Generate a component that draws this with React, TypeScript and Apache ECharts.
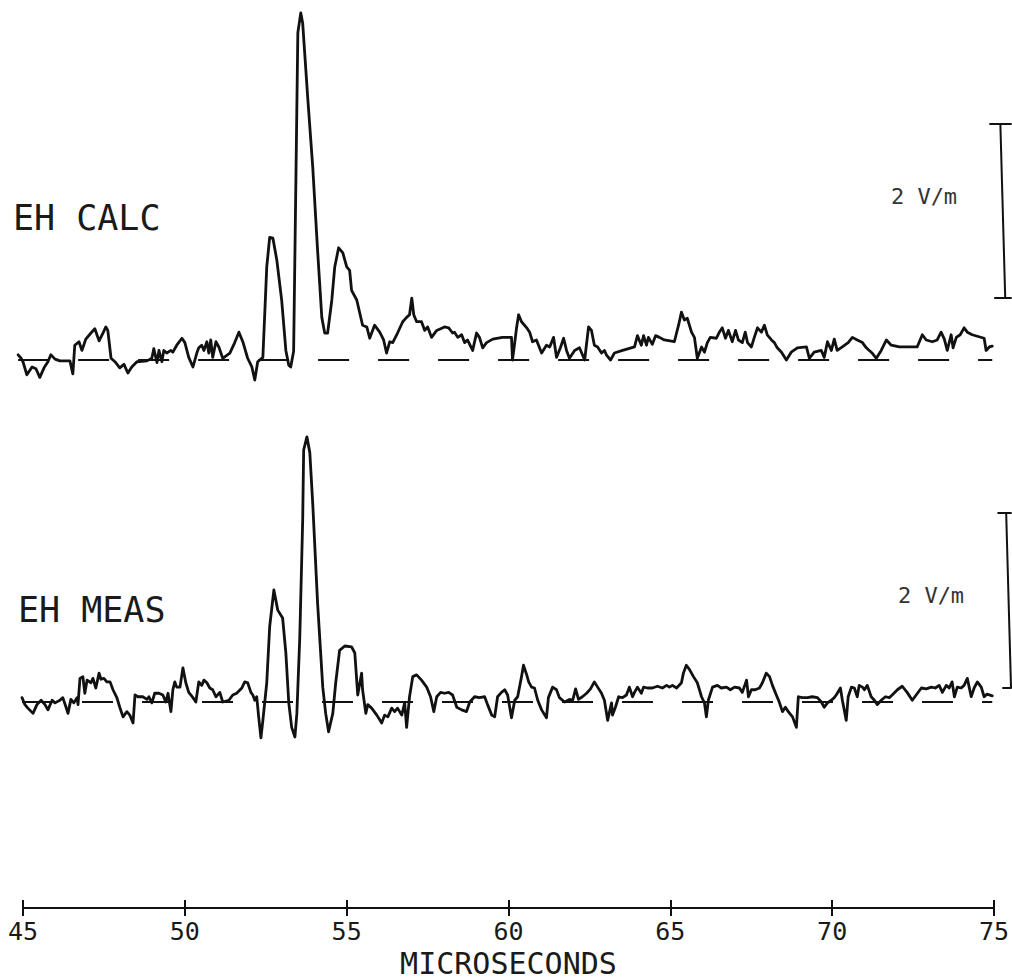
import React, { useEffect, useRef } from "react";
import * as echarts from "echarts";

// ---- Data (time in microseconds, field in V/m) ----
const TIME_TICKS = [45, 50, 55, 60, 65, 70, 75];
const X_AXIS_NAME = "MICROSECONDS";
const TRACE_LABELS = ["EH CALC", "EH MEAS"];
const SCALE_LABEL = "2 V/m";
const SCALE_SPAN = 2;

const calcTrace: number[][] = [
  [44.85,0.06],[44.94,0.02],[45.00,-0.02],[45.12,-0.17],[45.28,-0.08],[45.40,-0.10],[45.52,-0.20],[45.65,-0.09],[45.77,-0.02],[45.86,0.06],[45.99,0.01],[46.14,-0.01],[46.45,-0.01],[46.54,-0.16],[46.60,0.17],[46.73,0.21],[46.82,0.11],[46.94,0.24],[47.10,0.31],[47.22,0.36],[47.35,0.22],[47.47,0.31],[47.56,0.38],[47.62,0.34],[47.72,0.02],[47.84,-0.02],[47.99,-0.09],[48.12,-0.05],[48.24,-0.15],[48.36,-0.08],[48.52,-0.02],[48.83,-0.01],[48.98,0.02],[49.04,0.13],[49.14,-0.03],[49.20,0.11],[49.29,-0.02],[49.35,0.11],[49.44,0.08],[49.57,0.11],[49.63,0.09],[49.75,0.17],[49.91,0.25],[50.00,0.20],[50.12,0.03],[50.25,-0.08],[50.37,0.08],[50.43,0.14],[50.52,0.17],[50.59,0.11],[50.68,0.21],[50.74,0.08],[50.80,0.23],[50.86,0.03],[50.96,0.21],[51.05,0.15],[51.17,0.02],[51.39,0.08],[51.54,0.20],[51.67,0.32],[51.79,0.21],[51.94,0.02],[52.07,-0.08],[52.16,-0.23],[52.25,-0.02],[52.41,0.03],
  [52.53,1.07],[52.62,1.41],[52.72,1.40],[52.84,1.15],[52.99,0.69],[53.12,0.11],[53.21,-0.06],[53.27,-0.08],[53.36,0.10],[53.49,3.76],[53.58,3.99],[53.64,3.87],[53.80,2.99],[53.95,2.22],[54.10,1.26],[54.23,0.49],[54.32,0.31],[54.41,0.31],[54.54,0.69],[54.63,1.07],[54.75,1.29],[54.88,1.23],[55.00,1.07],[55.09,1.03],[55.15,0.80],[55.31,0.69],
  [55.49,0.40],[55.62,0.38],[55.71,0.25],[55.86,0.40],[56.02,0.32],[56.14,0.23],[56.23,0.08],[56.33,0.21],[56.42,0.20],[56.57,0.31],[56.73,0.44],[56.85,0.49],[56.94,0.52],[57.01,0.71],[57.07,0.52],[57.16,0.44],[57.31,0.44],[57.41,0.34],[57.50,0.38],[57.62,0.26],[57.78,0.34],[58.02,0.38],[58.15,0.37],[58.27,0.31],[58.33,0.32],[58.43,0.26],[58.55,0.29],[58.64,0.20],[58.73,0.23],[58.89,0.11],[59.01,0.31],[59.10,0.26],[59.20,0.14],[59.32,0.20],[59.51,0.24],[59.81,0.26],[60.09,0.26],[60.12,0.00],[60.19,0.20],
  [60.25,0.38],[60.31,0.52],[60.40,0.44],[60.56,0.37],[60.65,0.32],[60.74,0.21],[60.86,0.23],[61.02,0.08],[61.17,0.17],[61.27,0.15],[61.39,0.26],[61.48,0.03],[61.60,0.14],[61.70,0.25],[61.79,0.11],[61.88,0.02],[62.04,0.11],[62.19,0.14],[62.35,0.00],[62.47,0.38],[62.56,0.34],[62.65,0.17],[62.75,0.15],[62.87,0.08],[62.96,0.11],[63.02,0.06],[63.15,0.00],[63.27,0.08],[63.52,0.11],[63.89,0.15],[63.98,0.28],[64.10,0.17],[64.17,0.28],[64.26,0.17],[64.32,0.26],[64.44,0.18],[64.54,0.28],[64.66,0.26],[64.81,0.23],[65.12,0.21],[65.25,0.40],[65.34,0.55],[65.43,0.46],[65.52,0.48],[65.65,0.32],[65.74,0.26],[65.83,0.02],[65.96,0.15],[66.05,0.09],[66.14,0.20],[66.23,0.26],[66.42,0.25],[66.51,0.32],[66.60,0.37],[66.70,0.25],[66.79,0.34],[66.91,0.21],[67.01,0.34],[67.10,0.23],[67.22,0.20],[67.31,0.32],[67.38,0.20],[67.50,0.15],[67.59,0.26],[67.69,0.37],[67.81,0.32],[67.90,0.40],[67.99,0.29],[68.12,0.23],[68.21,0.20],[68.30,0.14],[68.43,0.09],[68.58,0.00],[68.73,0.09],[68.92,0.14],[69.20,0.15],[69.29,0.02],[69.44,0.09],[69.66,0.11],[69.75,0.03],[69.85,0.21],[69.97,0.11],[70.06,0.24],[70.15,0.11],[70.31,0.15],[70.49,0.20],[70.62,0.26],[70.77,0.23],[70.93,0.20],[71.05,0.14],[71.14,0.11],[71.23,0.08],[71.36,0.02],[71.51,0.11],[71.67,0.23],[71.82,0.17],[72.07,0.15],[72.62,0.15],[72.78,0.29],[72.90,0.23],[73.09,0.21],[73.24,0.23],[73.36,0.32],[73.46,0.24],[73.55,0.11],[73.67,0.29],[73.73,0.14],[73.83,0.26],[73.95,0.29],[74.07,0.37],[74.17,0.32],[74.32,0.29],[74.69,0.25],[74.75,0.11],[74.85,0.15],[74.94,0.16]
];

const measTrace: number[][] = [
  [44.97,0.05],[45.06,-0.03],[45.15,-0.07],[45.31,-0.13],[45.43,-0.03],[45.56,0.02],[45.68,-0.03],[45.77,-0.09],[45.90,0.02],[45.99,-0.01],[46.14,0.02],[46.23,0.05],[46.33,-0.06],[46.39,-0.13],[46.48,0.03],[46.57,-0.01],[46.67,0.05],[46.70,-0.03],[46.76,0.27],[46.85,0.29],[46.91,0.10],[46.98,0.25],[47.10,0.22],[47.16,0.27],[47.25,0.16],[47.35,0.33],[47.41,0.26],[47.50,0.27],[47.59,0.23],[47.69,0.23],[47.78,0.14],[47.90,0.05],[47.99,-0.06],[48.09,-0.17],[48.21,-0.11],[48.30,-0.15],[48.40,-0.24],[48.46,0.08],[48.55,0.06],[48.70,0.06],[48.83,0.03],[48.89,0.06],[48.98,-0.01],[49.07,0.10],[49.20,0.10],[49.32,0.08],[49.41,0.00],[49.48,0.10],[49.57,-0.11],[49.63,0.14],[49.69,0.23],[49.75,0.17],[49.85,0.17],[49.94,0.39],[50.03,0.22],[50.12,0.11],[50.25,0.05],[50.34,0.00],[50.43,0.23],[50.52,0.19],[50.59,0.25],[50.68,0.22],[50.77,0.16],[50.86,0.14],[50.96,0.06],[51.08,0.11],[51.17,0.00],[51.36,0.02],[51.48,0.08],[51.60,0.10],[51.76,0.16],[51.85,0.23],[51.94,0.22],[52.04,0.11],[52.10,0.08],[52.16,0.02],[52.22,0.06],[52.28,-0.17],[52.35,-0.41],
  [52.41,-0.21],[52.53,0.22],[52.62,0.86],[52.75,1.28],[52.87,1.05],[53.02,0.96],[53.12,0.56],[53.21,-0.01],[53.30,-0.29],[53.40,-0.40],[53.46,-0.13],[53.55,0.74],[53.64,2.08],[53.67,2.88],[53.77,3.03],[53.86,2.85],[53.95,2.27],[54.10,1.13],[54.26,0.17],[54.35,-0.13],[54.44,-0.34],[54.57,-0.13],[54.66,0.22],[54.78,0.59],[54.94,0.64],[55.15,0.63],[55.25,0.56],[55.34,0.08],[55.46,0.33],[55.49,0.14],[55.59,-0.13],[55.65,-0.03],[55.77,-0.07],[55.93,-0.15],[56.08,-0.24],[56.17,-0.15],[56.27,-0.17],[56.39,-0.07],[56.48,-0.11],[56.57,-0.07],[56.70,-0.15],[56.79,-0.01],[56.85,-0.29],[56.94,0.06],[57.04,0.29],[57.16,0.31],[57.31,0.25],[57.47,0.17],[57.59,0.06],[57.69,-0.11],[57.78,0.06],[57.90,0.11],[58.02,0.10],[58.15,0.11],[58.27,0.08],[58.40,-0.06],[58.55,-0.09],[58.70,-0.11],[58.80,0.00],[58.95,0.06],[59.10,0.05],[59.26,0.06],[59.35,-0.03],[59.48,-0.15],[59.57,-0.17],[59.66,0.06],[59.78,0.11],[59.88,0.14],[59.97,0.08],[60.09,-0.18],[60.19,0.02],[60.28,0.06],
  [60.40,0.29],[60.46,0.42],[60.56,0.31],[60.62,0.23],[60.71,0.17],[60.80,0.16],[60.90,0.02],[61.02,-0.09],[61.17,-0.18],[61.23,0.05],[61.36,0.17],[61.48,0.14],[61.57,0.05],[61.73,0.00],[61.88,0.03],[61.98,0.02],[62.07,0.15],[62.16,0.03],[62.28,0.06],[62.41,0.10],[62.53,0.15],[62.65,0.23],[62.75,0.17],[62.87,0.10],[62.96,0.02],[63.06,-0.21],[63.18,-0.01],[63.21,-0.15],[63.30,-0.06],[63.40,0.06],[63.52,0.05],[63.64,0.08],[63.73,0.17],[63.83,0.06],[63.89,0.11],[63.98,0.17],[64.10,0.10],[64.17,0.17],[64.29,0.16],[64.44,0.16],[64.60,0.18],[64.75,0.16],[64.88,0.19],[64.97,0.17],[65.06,0.19],[65.19,0.16],[65.34,0.22],[65.40,0.33],[65.49,0.42],[65.59,0.37],[65.71,0.29],[65.83,0.22],[65.96,0.06],[66.05,-0.01],[66.11,-0.17],[66.17,0.02],[66.30,0.17],[66.45,0.19],[66.57,0.16],[66.73,0.17],[66.85,0.14],[66.98,0.17],[67.13,0.16],[67.22,0.11],[67.35,0.25],[67.41,0.06],[67.50,0.14],[67.62,0.14],[67.75,0.16],[67.84,0.22],[67.96,0.33],[68.06,0.29],[68.15,0.19],[68.27,0.08],[68.36,0.00],[68.46,-0.11],[68.55,-0.06],[68.64,-0.11],[68.77,-0.17],[68.89,-0.29],[68.95,0.06],[69.07,0.05],[69.23,0.05],[69.38,0.06],[69.54,0.05],[69.66,0.00],[69.75,-0.06],[69.85,-0.01],[69.97,0.02],[70.06,0.05],[70.12,0.08],[70.25,0.16],[70.31,0.02],[70.43,-0.21],[70.49,0.06],[70.59,0.17],[70.68,0.16],[70.77,0.06],[70.83,0.19],[70.93,0.17],[70.99,0.14],[71.08,0.19],[71.20,0.06],[71.30,0.02],[71.39,-0.03],[71.51,0.02],[71.64,0.06],[71.76,0.05],[71.85,0.08],[72.01,0.14],[72.16,0.18],[72.31,0.11],[72.47,0.02],[72.59,0.08],[72.75,0.16],[72.90,0.15],[73.06,0.17],[73.18,0.16],[73.30,0.19],[73.40,0.11],[73.52,0.19],[73.61,0.16],[73.70,0.23],[73.77,0.06],[73.86,0.17],[73.98,0.16],[74.07,0.19],[74.17,0.27],[74.29,0.06],[74.38,0.16],[74.48,0.23],[74.60,0.17],[74.69,0.06],[74.78,0.09],[74.94,0.07]
];

const calcBaseline: number[][] = [[44.85, 0], [74.94, 0]];
const measBaseline: number[][] = [[44.97, 0], [74.94, 0]];

// scale bars: [x at top, x at bottom, cap left x, cap right x, low value]
const calcScaleBar = [75.19, 75.34, 74.85, 75.54, 0.72];
const measScaleBar = [75.37, 75.52, 75.1, 75.54, 0.16];

const INK = "#111";
const FONT = '"DejaVu Sans Mono", "Liberation Mono", monospace';

function scaleBarLines(bar: number[]) {
  const [xTop, xBot, capL, capR, low] = bar;
  const high = low + SCALE_SPAN;
  return [
    [{ coord: [xBot, low] }, { coord: [xTop, high] }],
    [{ coord: [capL, high] }, { coord: [capR, high] }],
    [{ coord: [capL + (xBot - xTop), low] }, { coord: [capR, low] }],
  ];
}

export default function App() {
  const ref = useRef<HTMLDivElement>(null);

  useEffect(() => {
    if (!ref.current) return;
    const chart = echarts.init(ref.current, null, { renderer: "svg" });

    const traceX = { min: 44.5, max: 75.55, show: false, type: "value" as const };

    const option: any = {
      animation: false,
      backgroundColor: "#fff",
      grid: [
        { left: 6.8, width: 1006, top: 3.3, height: 400.2 },
        { left: 6.8, width: 1006, top: 404.5, height: 350 },
        { left: 23, width: 972, top: 700, height: 208 },
      ],
      xAxis: [
        { ...traceX, gridIndex: 0 },
        { ...traceX, gridIndex: 1 },
        {
          gridIndex: 2,
          type: "value",
          min: TIME_TICKS[0],
          max: TIME_TICKS[TIME_TICKS.length - 1],
          interval: TIME_TICKS[1] - TIME_TICKS[0],
          position: "bottom",
          axisLine: { show: true, lineStyle: { color: INK, width: 2 } },
          axisTick: { show: true, length: 8, inside: false, lineStyle: { color: INK, width: 2 } },
          splitLine: { show: false },
          axisLabel: {
            show: true,
            margin: 13,
            color: "#1a1a1a",
            fontFamily: FONT,
            fontSize: 25,
            lineHeight: 20,
          },
          name: X_AXIS_NAME,
          nameLocation: "middle",
          nameGap: 41,
          nameTextStyle: { color: "#1a1a1a", fontFamily: FONT, fontSize: 30, lineHeight: 28 },
        },
        {
          gridIndex: 2,
          type: "value",
          min: TIME_TICKS[0],
          max: TIME_TICKS[TIME_TICKS.length - 1],
          interval: TIME_TICKS[1] - TIME_TICKS[0],
          position: "bottom",
          axisLine: { show: false },
          axisTick: { show: true, length: 8, inside: true, lineStyle: { color: INK, width: 2 } },
          axisLabel: { show: false },
          splitLine: { show: false },
        },
      ],
      yAxis: [
        { gridIndex: 0, type: "value", min: -0.5, max: 4.1, show: false },
        { gridIndex: 1, type: "value", min: -0.6, max: 3.4, show: false },
        { gridIndex: 2, type: "value", min: 0, max: 1, show: false },
      ],
      series: [
        {
          name: "baseline calc",
          type: "line",
          xAxisIndex: 0,
          yAxisIndex: 0,
          data: calcBaseline,
          symbol: "none",
          silent: true,
          lineStyle: { color: INK, width: 2, type: [31, 29] },
          markLine: {
            symbol: "none",
            silent: true,
            label: { show: false },
            lineStyle: { color: INK, width: 2, type: "solid" },
            data: scaleBarLines(calcScaleBar),
          },
        },
        {
          name: "baseline meas",
          type: "line",
          xAxisIndex: 1,
          yAxisIndex: 1,
          data: measBaseline,
          symbol: "none",
          silent: true,
          lineStyle: { color: INK, width: 2, type: [31, 29] },
          markLine: {
            symbol: "none",
            silent: true,
            label: { show: false },
            lineStyle: { color: INK, width: 2, type: "solid" },
            data: scaleBarLines(measScaleBar),
          },
        },
        {
          name: TRACE_LABELS[0],
          type: "line",
          xAxisIndex: 0,
          yAxisIndex: 0,
          data: calcTrace,
          symbol: "none",
          lineStyle: { color: INK, width: 2.8, join: "round", cap: "round" },
        },
        {
          name: TRACE_LABELS[1],
          type: "line",
          xAxisIndex: 1,
          yAxisIndex: 1,
          data: measTrace,
          symbol: "none",
          lineStyle: { color: INK, width: 2.8, join: "round", cap: "round" },
        },
      ],
      graphic: [
        {
          type: "text",
          x: 13,
          y: 218,
          style: { text: TRACE_LABELS[0], fill: "#1a1a1a", fontFamily: FONT, fontSize: 35, align: "left", verticalAlign: "middle" },
        },
        {
          type: "text",
          x: 18,
          y: 610,
          style: { text: TRACE_LABELS[1], fill: "#1a1a1a", fontFamily: FONT, fontSize: 35, align: "left", verticalAlign: "middle" },
        },
        {
          type: "text",
          x: 924,
          y: 196,
          style: { text: SCALE_LABEL, fill: "#333", fontFamily: FONT, fontSize: 22, align: "center", verticalAlign: "middle" },
        },
        {
          type: "text",
          x: 931,
          y: 595,
          style: { text: SCALE_LABEL, fill: "#333", fontFamily: FONT, fontSize: 22, align: "center", verticalAlign: "middle" },
        },
      ],
    };

    chart.setOption(option);
    return () => chart.dispose();
  }, []);

  return (
    <div
      ref={ref}
      style={{ position: "absolute", left: 0, top: 0, width: 1012, height: 979, background: "#fff" }}
    />
  );
}
